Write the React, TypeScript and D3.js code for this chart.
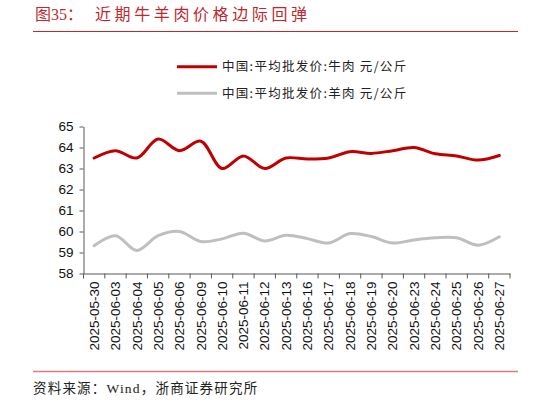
import React, { useEffect, useRef } from "react";
import * as d3 from "d3";

const categories = [
  "2025-05-30", "2025-06-03", "2025-06-04", "2025-06-05", "2025-06-06",
  "2025-06-09", "2025-06-10", "2025-06-11", "2025-06-12", "2025-06-13",
  "2025-06-16", "2025-06-17", "2025-06-18", "2025-06-19", "2025-06-20",
  "2025-06-23", "2025-06-24", "2025-06-25", "2025-06-26", "2025-06-27",
];
const beef = [63.5, 63.85, 63.5, 64.4, 63.85, 64.3, 63.0, 63.6, 63.0, 63.5,
  63.45, 63.5, 63.8, 63.72, 63.85, 64.0, 63.7, 63.6, 63.4, 63.62];
const mutton = [59.32, 59.8, 59.1, 59.8, 60.0, 59.52, 59.65, 59.92, 59.55, 59.82,
  59.66, 59.45, 59.9, 59.76, 59.45, 59.6, 59.7, 59.7, 59.35, 59.75];
const yTicks = [58, 59, 60, 61, 62, 63, 64, 65];
const seriesNames = ["中国:平均批发价:牛肉 元/公斤", "中国:平均批发价:羊肉 元/公斤"];
const seriesColors = ["#c00000", "#bfbfbf"];

export default function App() {
  const ref = useRef<SVGSVGElement>(null);
  useEffect(() => {
    const svg = d3.select(ref.current);
    svg.selectAll("*").remove();
    const left = 83.5, right = 510, top = 126.5, bottom = 273.5;
    const x = d3.scaleBand().domain(categories).range([left, right]);
    const y = d3.scaleLinear().domain([58, 65]).range([bottom, top]);

    // title
    const title = svg.append("text").attr("x", 35).attr("y", 20)
      .attr("font-family", "'Liberation Serif','Noto Sans CJK SC'")
      .attr("font-size", 16).attr("fill", "#c0282d");
    title.append("tspan").text("图35：");
    title.append("tspan").attr("x", 95).attr("letter-spacing", 3.6).text("近期牛羊肉价格边际回弹");
    svg.append("line").attr("x1", 33).attr("x2", 518).attr("y1", 31.5).attr("y2", 31.5)
      .attr("stroke", "#c0282d").attr("stroke-width", 1);

    // legend
    const series = [beef, mutton];
    series.forEach((_, i) => {
      const ly = 66.7 + i * 26.6;
      svg.append("line").attr("x1", 177).attr("x2", 217).attr("y1", ly).attr("y2", ly)
        .attr("stroke", seriesColors[i]).attr("stroke-width", 3);
      svg.append("text").attr("x", 222).attr("y", ly + 4.5)
        .attr("font-family", "'Noto Sans CJK SC'").attr("font-size", 12.5).attr("fill", "#222")
        .attr("letter-spacing", 1.3)
        .text(seriesNames[i]);
    });

    // y axis
    const yAxis = svg.append("g").attr("transform", `translate(${left},0)`)
      .call(d3.axisLeft(y).tickValues(yTicks).tickSize(4).tickSizeOuter(0).tickFormat(d3.format("d")));
    yAxis.select(".domain").attr("stroke", "#595959");
    yAxis.selectAll(".tick line").attr("stroke", "#595959");
    yAxis.selectAll(".tick text").attr("font-family", "'Liberation Sans',Arial")
      .attr("font-size", 13.5).attr("fill", "#111").attr("x", -10);

    // x axis
    const xAxis = svg.append("g").attr("transform", `translate(0,${bottom})`)
      .call(d3.axisBottom(x).tickSize(0).tickSizeOuter(0));
    xAxis.select(".domain").attr("stroke", "#595959");
    xAxis.selectAll(".tick text")
      .attr("font-family", "'Liberation Sans',Arial").attr("font-size", 13.5).attr("fill", "#111")
      .attr("transform", "rotate(-90)").attr("text-anchor", "end")
      .attr("x", -8).attr("y", 0).attr("dy", "0.35em");
    const bounds = categories.map((c) => x(c) as number).concat([right]);
    svg.append("g").selectAll("line").data(bounds).join("line")
      .attr("x1", (d) => d).attr("x2", (d) => d)
      .attr("y1", bottom).attr("y2", bottom + 5)
      .attr("stroke", "#595959");

    // lines
    const line = d3.line<number>()
      .x((_, i) => (x(categories[i]) as number) + x.bandwidth() / 2)
      .y((d) => y(d))
      .curve(d3.curveCatmullRom.alpha(0.5));
    series.forEach((s, i) => {
      svg.append("path").attr("d", line(s) as string).attr("fill", "none")
        .attr("stroke", seriesColors[i]).attr("stroke-width", 3)
        .attr("stroke-linejoin", "round").attr("stroke-linecap", "round");
    });

    // footer
    svg.append("line").attr("x1", 33).attr("x2", 518).attr("y1", 371.5).attr("y2", 371.5)
      .attr("stroke", "#e07b7b").attr("stroke-width", 1.5);
    svg.append("text").attr("x", 33).attr("y", 393)
      .attr("font-family", "'Liberation Serif','Noto Sans CJK SC'")
      .attr("font-size", 13.5).attr("fill", "#222").attr("letter-spacing", 1.2)
      .text("资料来源：Wind，浙商证券研究所");
  }, []);
  return (
    <div style={{ position: "absolute", left: 0, top: 0 }}>
      <svg ref={ref} width={548} height={403} style={{ display: "block", background: "#fff" }} />
    </div>
  );
}
